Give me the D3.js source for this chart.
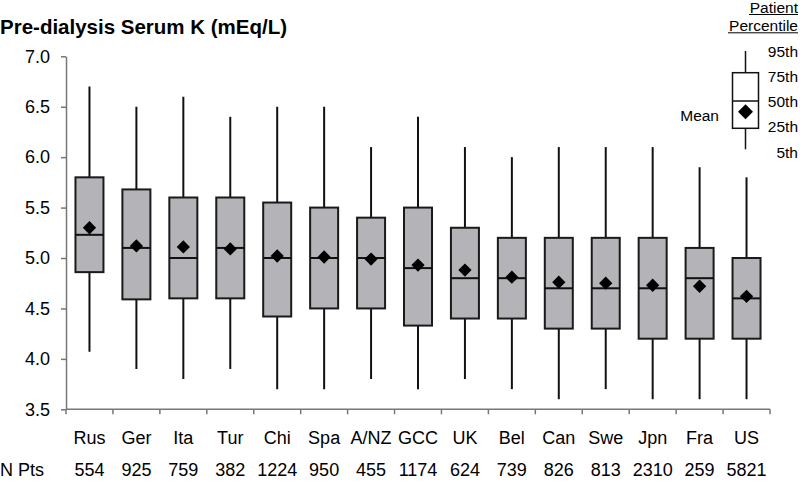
<!DOCTYPE html>
<html><head><meta charset="utf-8">
<script src="https://cdn.jsdelivr.net/npm/d3@7"></script>
<style>body{margin:0;background:#fff;} text{font-family:"Liberation Sans",Arial,sans-serif;fill:#000;}</style>
</head><body>
<svg id="c" width="800" height="481"></svg>
<script>
const categories = ["Rus","Ger","Ita","Tur","Chi","Spa","A/NZ","GCC","UK","Bel","Can","Swe","Jpn","Fra","US"];
const p5  = [4.07,3.90,3.80,3.90,3.70,3.70,3.80,3.70,3.80,3.70,3.60,3.70,3.60,3.60,3.60];
const p25 = [4.86,4.59,4.60,4.60,4.42,4.50,4.50,4.33,4.40,4.40,4.30,4.30,4.20,4.20,4.20];
const p50 = [5.23,5.10,5.00,5.10,5.00,5.00,5.00,4.90,4.80,4.80,4.70,4.70,4.70,4.80,4.60];
const p75 = [5.80,5.68,5.60,5.60,5.55,5.50,5.40,5.50,5.30,5.20,5.20,5.20,5.20,5.10,5.00];
const p95 = [6.70,6.50,6.60,6.40,6.50,6.50,6.10,6.40,6.10,6.00,6.10,6.10,6.10,5.90,5.80];
const means = [5.30,5.12,5.11,5.09,5.02,5.01,4.99,4.93,4.88,4.81,4.76,4.75,4.73,4.72,4.62];
const nPts = [554,925,759,382,1224,950,455,1174,624,739,826,813,2310,259,5821];
const yTicks = [3.5,4.0,4.5,5.0,5.5,6.0,6.5,7.0];
const legendLabels = ["95th","75th","50th","25th","5th"];

const svg = d3.select("#c");
const x = d3.scaleBand().domain(categories).range([66,770]);
const y = d3.scaleLinear().domain([3.5,7.0]).range([409.3,56.3]);

svg.append("text").attr("x",0).attr("y",34).attr("font-size",20.5).attr("font-weight","bold").text("Pre-dialysis Serum K (mEq/L)");

// y axis
const yAxis = svg.append("g").attr("transform","translate(66,0)")
  .call(d3.axisLeft(y).tickValues(yTicks).tickFormat(d3.format(".1f")).tickSize(5).tickSizeOuter(0).tickPadding(11));
yAxis.selectAll("path,line").attr("stroke","#777").attr("stroke-width",1.5);
yAxis.selectAll("text").attr("font-size",18).attr("font-family","Liberation Sans, Arial, sans-serif");

// x axis line and ticks at band boundaries
const xAxis = svg.append("g").attr("transform","translate(0,409.3)");
xAxis.append("line").attr("x1",66).attr("x2",770).attr("stroke","#777").attr("stroke-width",1.5);
const bounds = categories.map(c=>x(c)).concat([x.range()[1]]);
xAxis.selectAll("line.t").data(bounds).enter().append("line").attr("class","t")
  .attr("x1",d=>d).attr("x2",d=>d).attr("y1",0).attr("y2",5).attr("stroke","#777").attr("stroke-width",1.5);

// category labels
svg.append("g").selectAll("text").data(categories).enter().append("text")
  .attr("x",d=>x(d)+x.bandwidth()/2).attr("y",444).attr("text-anchor","middle").attr("font-size",18).text(d=>d);
svg.append("text").attr("x",0).attr("y",476).attr("font-size",18).text("N Pts");
svg.append("g").selectAll("text").data(nPts).enter().append("text")
  .attr("x",(d,i)=>x(categories[i])+x.bandwidth()/2).attr("y",476).attr("text-anchor","middle").attr("font-size",18).text(d=>d);

const bw = 28;
const g = svg.append("g").selectAll("g").data(categories).enter().append("g");
const cx = d=>x(d)+x.bandwidth()/2;
g.append("line").attr("x1",cx).attr("x2",cx).attr("y1",(d,i)=>y(p95[i])).attr("y2",(d,i)=>y(p5[i]))
  .attr("stroke","#111").attr("stroke-width",2);
g.append("rect").attr("x",d=>cx(d)-bw/2).attr("width",bw)
  .attr("y",(d,i)=>y(p75[i])).attr("height",(d,i)=>y(p25[i])-y(p75[i]))
  .attr("fill","#b4b4b8").attr("stroke","#1a1a1a").attr("stroke-width",2);
g.append("line").attr("x1",d=>cx(d)-bw/2).attr("x2",d=>cx(d)+bw/2).attr("y1",(d,i)=>y(p50[i])).attr("y2",(d,i)=>y(p50[i]))
  .attr("stroke","#111").attr("stroke-width",2);
const sym = d3.symbol().type(d3.symbolSquare).size(88);
g.append("path").attr("d",sym).attr("transform",(d,i)=>`translate(${cx(d)},${y(means[i])}) rotate(45)`).attr("fill","#000");

// legend
const L = svg.append("g");
const lx = 745.5, lw = 26;
const ly = [51, 72.7, 101, 128.3, 149.3];
L.append("line").attr("x1",lx).attr("x2",lx).attr("y1",ly[0]).attr("y2",ly[4]).attr("stroke","#111").attr("stroke-width",1.5);
L.append("rect").attr("x",lx-lw/2).attr("width",lw).attr("y",ly[1]).attr("height",ly[3]-ly[1]).attr("fill","#fff").attr("stroke","#111").attr("stroke-width",1.5);
L.append("line").attr("x1",lx-lw/2).attr("x2",lx+lw/2).attr("y1",ly[2]).attr("y2",ly[2]).attr("stroke","#111").attr("stroke-width",1.5);
L.append("path").attr("d",d3.symbol().type(d3.symbolSquare).size(112)).attr("transform",`translate(${lx},111.7) rotate(45)`).attr("fill","#000");
const labY = [51.7,76.7,101.7,126.7,152.7];
L.selectAll("text.p").data(legendLabels).enter().append("text").attr("class","p")
  .attr("x",798).attr("y",(d,i)=>labY[i]+5.5).attr("text-anchor","end").attr("font-size",15.5).text(d=>d);
L.append("text").attr("x",719).attr("y",120.5).attr("text-anchor","end").attr("font-size",15.5).text("Mean");
L.append("text").attr("x",798).attr("y",12.5).attr("text-anchor","end").attr("font-size",15.5).text("Patient");
L.append("text").attr("x",798).attr("y",30.5).attr("text-anchor","end").attr("font-size",15.5).text("Percentile");
L.append("line").attr("x1",749).attr("x2",798).attr("y1",14.5).attr("y2",14.5).attr("stroke","#000").attr("stroke-width",1);
L.append("line").attr("x1",728).attr("x2",798).attr("y1",32.8).attr("y2",32.8).attr("stroke","#000").attr("stroke-width",1);
</script>
</body></html>
